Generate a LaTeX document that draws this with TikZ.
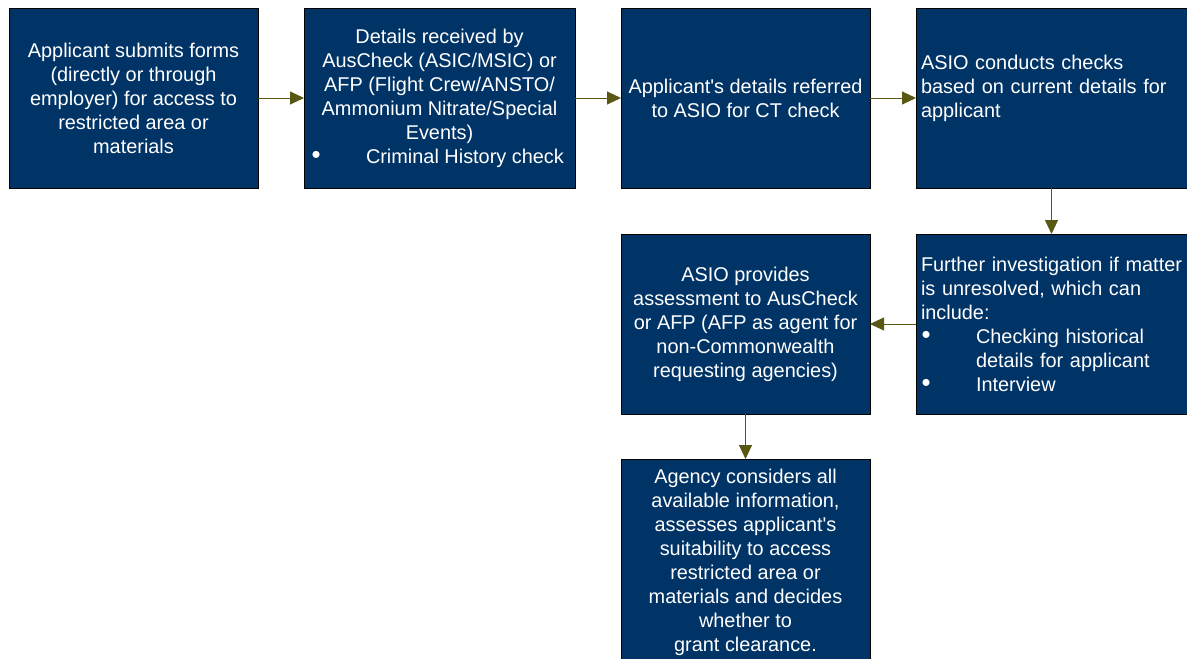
\documentclass[tikz,border=0pt]{standalone}
\usepackage{fontspec}
\setmainfont{Liberation Sans}
\usepackage{xcolor}
\usepackage{graphicx}
\usepackage{tikz}
\usetikzlibrary{positioning}
\usetikzlibrary{arrows.meta}
\definecolor{boxblue}{RGB}{0,51,102}
\definecolor{arrowolive}{RGB}{88,88,20}
\tikzset{
    node distance = 46bp,
    stage/.style={shape=rectangle,draw=black,fill=boxblue,text=white,line width=0.8bp,
        inner xsep=5bp,inner ysep=0bp,outer sep=0bp,minimum height=180bp,
        font=\fontsize{19.9bp}{24bp}\selectfont},
    narrow/.style={stage,minimum width=249bp,align=center},
    wide/.style={stage,minimum width=271bp},
    flow/.style={draw=arrowolive,line width=0.9bp,-{Triangle[length=14bp,width=13bp]}}
}
\newcommand{\bulletcell}[2]{\makebox[#1][l]{\hspace{#2}\raisebox{-0.3bp}{\scalebox{1.3}{\textbullet}}}}

\begin{document}
\begin{tikzpicture}
    \useasboundingbox (0,0) rectangle (1187bp,-659bp);
    \clip (0,0) rectangle (1187bp,-659bp);
    \node(submit)[narrow,anchor=north west] at (9bp,-8bp)
        {Applicant submits forms\\(directly or through\\employer) for access to\\restricted area or\\materials};
    \node(received)[wide,align=center,right=46bp of submit]
        {Details received by\\AusCheck (ASIC/MSIC) or\\AFP (Flight Crew/ANSTO/\\Ammonium Nitrate/Special\\Events)\\
         \makebox[261bp][l]{\bulletcell{57bp}{2.5bp}Criminal History check}};
    \node(referred)[narrow,right=46bp of received]
        {Applicant\textquotesingle s details referred\\to ASIO for CT check};
    \node(checks)[wide,text width=261bp,align=left,right=46bp of referred]
        {\mbox{ASIO conducts checks}\\\mbox{based on current details for}\\applicant\\\mbox{}};
    \node(further)[wide,text width=261bp,align=left,below=46bp of checks]
        {\mbox{Further investigation if matter}\\\mbox{is unresolved, which can}\\include:\\
         \bulletcell{55bp}{0.5bp}Checking historical\\\hspace*{55bp}details for applicant\\
         \bulletcell{55bp}{0.5bp}Interview};
    \node(assess)[narrow,left=46bp of further]
        {ASIO provides\\assessment to AusCheck\\or AFP (AFP as agent for\\non-Commonwealth\\requesting agencies)};
    \node(decide)[narrow,minimum height=206bp,below=45bp of assess]
        {Agency considers all\\available information,\\assesses applicant\textquotesingle s\\suitability to access\\restricted area or\\materials and decides\\whether to\\grant clearance.};
    % connectors
    \draw[flow](submit)--(received);
    \draw[flow](received)--(referred);
    \draw[flow](referred)--(checks);
    \draw[flow](checks)--(further);
    \draw[flow](further)--(assess);
    \draw[flow](assess)--(decide);
\end{tikzpicture}
\end{document}
